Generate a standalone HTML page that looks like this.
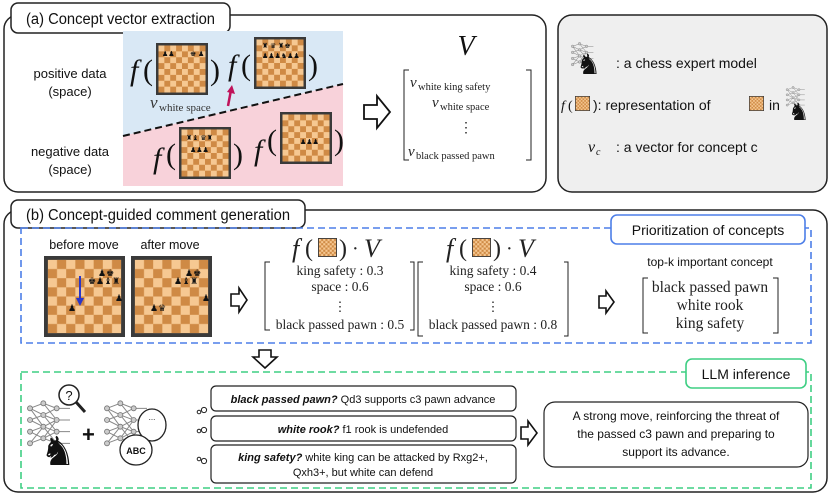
<!DOCTYPE html>
<html><head><meta charset="utf-8"><style>
html,body{margin:0;padding:0;background:#fff;}
svg{display:block;}
.sans{font-family:"Liberation Sans",sans-serif;}
.ser{font-family:"Liberation Serif",serif;}
</style></head><body>
<svg width="830" height="498" viewBox="0 0 830 498" xmlns="http://www.w3.org/2000/svg">
<defs>
<pattern id="chk" x="0" y="0" width="0.25" height="0.25" patternUnits="objectBoundingBox" patternContentUnits="objectBoundingBox">
<rect width="0.25" height="0.25" fill="#f6c892"/>
<rect x="0.125" width="0.125" height="0.125" fill="#cf8a45"/>
<rect y="0.125" width="0.125" height="0.125" fill="#cf8a45"/>
</pattern>
<symbol id="board" viewBox="0 0 84 84">
<rect width="84" height="84" fill="#3a3a3a"/>
<rect x="4" y="4" width="76" height="76" fill="url(#chk)"/>
</symbol>
<symbol id="net" viewBox="0 0 60 60">
<g stroke="#888" stroke-width="1.2" fill="none">
<path d="M6 10 L22 4 L38 10 L54 10 M6 10 L22 18 L38 10 M6 24 L22 18 L38 24 L54 24 M6 24 L22 32 L38 24 M6 38 L22 32 L38 38 L54 38 M6 38 L22 46 L38 38 M6 52 L22 46 L38 52 L54 52 M22 4 L38 24 M22 18 L38 38 M22 32 L38 52 M22 46 L38 24 M6 10 L22 32 M6 52 L22 32"/>
</g>
<g fill="#ccc" stroke="#777" stroke-width="1">
<circle cx="6" cy="10" r="3"/><circle cx="6" cy="24" r="3"/><circle cx="6" cy="38" r="3"/><circle cx="6" cy="52" r="3"/>
<circle cx="22" cy="4" r="3"/><circle cx="22" cy="18" r="3"/><circle cx="22" cy="32" r="3"/><circle cx="22" cy="46" r="3"/>
<circle cx="38" cy="10" r="3"/><circle cx="38" cy="24" r="3"/><circle cx="38" cy="38" r="3"/><circle cx="38" cy="52" r="3"/>
</g>
</symbol>
</defs>

<!-- (a) box -->
<rect x="4" y="15" width="542" height="177" rx="14" fill="#fff" stroke="#222" stroke-width="1.5"/>
<rect x="11" y="3" width="219" height="30" rx="7" fill="#fff" stroke="#222" stroke-width="1.5"/>
<text x="26" y="24" class="sans" font-size="15.5" textLength="189" lengthAdjust="spacingAndGlyphs" fill="#111">(a) Concept vector extraction</text>

<!-- colored region -->
<polygon points="123,31 343,31 343,84 123,136" fill="#d9e8f5"/>
<polygon points="123,136 343,84 343,186 123,186" fill="#f8d2da"/>
<line x1="123" y1="136" x2="343" y2="84" stroke="#111" stroke-width="2" stroke-dasharray="7,4"/>
<text x="70" y="78" text-anchor="middle" class="sans" font-size="13" fill="#111">positive data</text>
<text x="70" y="96" text-anchor="middle" class="sans" font-size="13" fill="#111">(space)</text>
<text x="70" y="156" text-anchor="middle" class="sans" font-size="13" fill="#111">negative data</text>
<text x="70" y="174" text-anchor="middle" class="sans" font-size="13" fill="#111">(space)</text>

<g class="ser" font-style="italic" font-size="30" fill="#111">
<text x="130" y="80">f</text><text x="254" y="160">f</text>
<text x="228" y="75">f</text><text x="153" y="168">f</text>
</g>
<g class="ser" font-size="30" fill="#111">
<text x="143" y="80">(</text><text x="210" y="80">)</text>
<text x="241" y="75">(</text><text x="308" y="75">)</text>
<text x="166" y="164">(</text><text x="233" y="164">)</text>
<text x="267" y="150">(</text><text x="334" y="150">)</text>
</g>
<use href="#board" x="156" y="43" width="52" height="52"/>
<use href="#board" x="254" y="37" width="52" height="52"/>
<use href="#board" x="179" y="127" width="52" height="52"/>
<use href="#board" x="280" y="112" width="52" height="52"/>
<g font-size="7" fill="#111">
<text x="162" y="56">♟♟</text><text x="190" y="56">♚ ♟</text><text x="262" y="48">♜ ♛ ♜♚</text><text x="262" y="58">♟♟♟♞♟♟</text>
<text x="186" y="140">♜♝ ♛♜</text><text x="190" y="152">♟♟♟</text><text x="300" y="144">♟♟♟</text>
</g>
<text x="150" y="108" class="ser" font-style="italic" font-size="17" fill="#333">v</text>
<text x="159" y="111" class="ser" font-size="11" fill="#333">white space</text>
<line x1="228" y1="106" x2="231" y2="90" stroke="#c0125a" stroke-width="2.5"/>
<polygon points="232,85 235,94 227,92" fill="#c0125a"/>

<polygon points="364,105 377,105 377,96 390,112 377,128 377,119 364,119" fill="#fff" stroke="#111" stroke-width="1.8"/>

<text x="466" y="55" text-anchor="middle" class="ser" font-style="italic" font-size="28" fill="#111">V</text>
<path d="M409 70 H404 V160 H409 M526 70 H531 V160 H526" fill="none" stroke="#222" stroke-width="1"/>
<g class="ser" fill="#222">
<text x="410" y="87" font-style="italic" font-size="15">v</text><text x="418" y="90" font-size="10.5">white king safety</text>
<text x="432" y="107" font-style="italic" font-size="15">v</text><text x="440" y="110" font-size="10.5">white space</text>
<text x="466" y="132" text-anchor="middle" font-size="14">⋮</text>
<text x="408" y="156" font-style="italic" font-size="15">v</text><text x="416" y="159" font-size="10.5">black passed pawn</text>
</g>

<!-- legend -->
<rect x="558" y="15" width="269" height="177" rx="14" fill="#efefef" stroke="#222" stroke-width="1.5"/>
<use href="#net" x="570" y="42" width="26" height="26"/>
<text x="576" y="74" font-size="28" fill="#111">♞</text>
<text x="616" y="68" class="sans" font-size="14" fill="#111">:  a chess expert model</text>
<text x="561" y="110" class="ser" font-style="italic" font-size="14" fill="#111">f</text>
<text x="568" y="110" class="ser" font-size="14" fill="#111">(</text>
<use href="#board" x="575" y="96" width="15" height="15"/>
<text x="593" y="110" class="sans" font-size="14" fill="#111">):  representation of</text>
<use href="#board" x="749" y="96" width="15" height="15"/>
<text x="769" y="110" class="sans" font-size="14" fill="#111">in</text>
<use href="#net" x="785" y="86" width="22" height="22"/>
<text x="788" y="120" font-size="24" fill="#111">♞</text>
<text x="588" y="152" class="ser" font-style="italic" font-size="16" fill="#111">v</text>
<text x="596" y="155" class="ser" font-style="italic" font-size="10" fill="#111">c</text>
<text x="616" y="152" class="sans" font-size="14" fill="#111">:  a vector for concept c</text>

<!-- (b) box -->
<rect x="4" y="210" width="823" height="282" rx="14" fill="#fff" stroke="#222" stroke-width="1.5"/>
<rect x="11" y="200" width="294" height="28" rx="7" fill="#fff" stroke="#222" stroke-width="1.5"/>
<text x="26" y="220" class="sans" font-size="15.5" textLength="264" lengthAdjust="spacingAndGlyphs" fill="#111">(b) Concept-guided comment generation</text>

<rect x="21" y="228" width="790" height="115" fill="none" stroke="#4d7fe8" stroke-width="1.6" stroke-dasharray="7,4"/>
<rect x="611" y="215" width="194" height="29" rx="6" fill="#fff" stroke="#4d7fe8" stroke-width="1.6"/>
<text x="708" y="235" text-anchor="middle" class="sans" font-size="14" fill="#111">Prioritization of concepts</text>

<text x="84" y="249" text-anchor="middle" class="sans" font-size="12.5" fill="#111">before move</text>
<text x="170" y="249" text-anchor="middle" class="sans" font-size="12.5" fill="#111">after move</text>
<use href="#board" x="44" y="256" width="81" height="81"/>
<use href="#board" x="131" y="256" width="81" height="81"/>
<g font-size="9" fill="#111">
<text x="88" y="284">♚</text><text x="96" y="284">♟</text><text x="104" y="284">♝♜</text><text x="98" y="276">♟♚</text>
<text x="68" y="311">♟</text><text x="115" y="301">♟</text>
<text x="185" y="276">♟♚</text><text x="174" y="284">♟♝♜</text><text x="150" y="311">♟♛</text><text x="202" y="301">♟</text>
</g>
<line x1="80" y1="276" x2="80" y2="300" stroke="#2a36c8" stroke-width="2"/>
<polygon points="76,298 84,298 80,306" fill="#2a36c8"/>

<polygon points="231,294 239,294 239,288 247,300 239,312 239,306 231,306" fill="#fff" stroke="#111" stroke-width="1.6"/>

<g class="ser" fill="#222">
<text x="292" y="257" font-style="italic" font-size="26">f</text><text x="305" y="256" font-size="24">(</text>
<use href="#board" x="318" y="238" width="19" height="19"/>
<text x="339" y="256" font-size="24">)</text><text x="352" y="255" font-size="20">·</text><text x="364" y="257" font-style="italic" font-size="26">V</text>
<path d="M270 262 H265 V330 H270 M410 262 H414 V330 H410" fill="none" stroke="#222" stroke-width="1"/>
<text x="340" y="275" text-anchor="middle" font-size="13.5">king safety : 0.3</text>
<text x="340" y="291" text-anchor="middle" font-size="13.5">space : 0.6</text>
<text x="340" y="311" text-anchor="middle" font-size="13">⋮</text>
<text x="340" y="329" text-anchor="middle" font-size="13.5">black passed pawn : 0.5</text>

<text x="446" y="257" font-style="italic" font-size="26">f</text><text x="459" y="256" font-size="24">(</text>
<use href="#board" x="472" y="238" width="19" height="19"/>
<text x="493" y="256" font-size="24">)</text><text x="506" y="255" font-size="20">·</text><text x="518" y="257" font-style="italic" font-size="26">V</text>
<path d="M423 262 H418 V336 H423 M564 262 H568 V336 H564" fill="none" stroke="#222" stroke-width="1"/>
<text x="493" y="275" text-anchor="middle" font-size="13.5">king safety : 0.4</text>
<text x="493" y="291" text-anchor="middle" font-size="13.5">space : 0.6</text>
<text x="493" y="311" text-anchor="middle" font-size="13">⋮</text>
<text x="493" y="329" text-anchor="middle" font-size="13.5">black passed pawn : 0.8</text>

<path d="M648 278 H643 V333 H648 M773 278 H778 V333 H773" fill="none" stroke="#222" stroke-width="1"/>
<text x="710" y="292" text-anchor="middle" font-size="15.5">black passed pawn</text>
<text x="710" y="310" text-anchor="middle" font-size="15.5">white rook</text>
<text x="710" y="328" text-anchor="middle" font-size="15.5">king safety</text>
</g>
<polygon points="599,296 606,296 606,291 614,302 606,313 606,308 599,308" fill="#fff" stroke="#111" stroke-width="1.6"/>
<text x="710" y="266" text-anchor="middle" class="sans" font-size="12" fill="#111">top-k important concept</text>

<polygon points="259,350 271,350 271,357 277,357 265,368 253,357 259,357" fill="#fff" stroke="#111" stroke-width="1.6"/>

<rect x="21" y="372" width="790" height="116" fill="none" stroke="#3fcf84" stroke-width="1.6" stroke-dasharray="7,4"/>
<rect x="686" y="359" width="120" height="29" rx="6" fill="#fff" stroke="#3fcf84" stroke-width="1.6"/>
<text x="746" y="379" text-anchor="middle" class="sans" font-size="14" fill="#111">LLM inference</text>

<use href="#net" x="25" y="400" width="50" height="50"/>
<circle cx="69" cy="395" r="10" fill="#fff" stroke="#222" stroke-width="1.5"/>
<line x1="76" y1="402" x2="85" y2="412" stroke="#222" stroke-width="3"/>
<text x="69" y="400" text-anchor="middle" class="sans" font-size="13" fill="#111">?</text>
<text x="40" y="465" font-size="40" fill="#111">♞</text>
<text x="82" y="442" class="sans" font-size="22" font-weight="bold" fill="#111">+</text>
<use href="#net" x="102" y="400" width="50" height="50"/>
<ellipse cx="152" cy="425" rx="14" ry="16" fill="#fff" stroke="#222" stroke-width="1.3"/>
<text x="152" y="420" text-anchor="middle" class="sans" font-size="8" fill="#111">...</text>
<ellipse cx="136" cy="450" rx="16" ry="15" fill="#fff" stroke="#222" stroke-width="1.3"/>
<text x="136" y="454" text-anchor="middle" class="sans" font-size="9" font-weight="bold" fill="#111">ABC</text>

<g fill="#fff" stroke="#222" stroke-width="1">
<circle cx="199" cy="412" r="1.8"/><circle cx="204" cy="410" r="2.6"/>
<circle cx="199" cy="431" r="1.8"/><circle cx="204" cy="430" r="2.6"/>
<circle cx="199" cy="459" r="1.8"/><circle cx="204" cy="461" r="2.6"/>
</g>
<g fill="#fff" stroke="#222" stroke-width="1.2">
<rect x="211" y="386" width="305" height="25" rx="5"/>
<rect x="211" y="416" width="305" height="25" rx="5"/>
<rect x="211" y="445" width="305" height="38" rx="5"/>
</g>
<g class="sans" font-size="11" fill="#111" text-anchor="middle">
<text x="363" y="403"><tspan font-weight="bold" font-style="italic">black passed pawn?</tspan> Qd3 supports c3 pawn advance</text>
<text x="363" y="433"><tspan font-weight="bold" font-style="italic">white rook?</tspan> f1 rook is undefended</text>
<text x="363" y="461"><tspan font-weight="bold" font-style="italic">king safety?</tspan> white king can be attacked by Rxg2+,</text>
<text x="363" y="476">Qxh3+, but white can defend</text>
</g>
<polygon points="521,427 528,427 528,421 537,433 528,445 528,439 521,439" fill="#fff" stroke="#111" stroke-width="1.6"/>
<rect x="544" y="402" width="264" height="65" rx="11" fill="#fff" stroke="#222" stroke-width="1.2"/>
<g class="sans" font-size="12" fill="#111" text-anchor="middle">
<text x="676" y="420">A strong move, reinforcing the threat of</text>
<text x="676" y="438">the passed c3 pawn and preparing to</text>
<text x="676" y="456">support its advance.</text>
</g>
</svg>
</body></html>
